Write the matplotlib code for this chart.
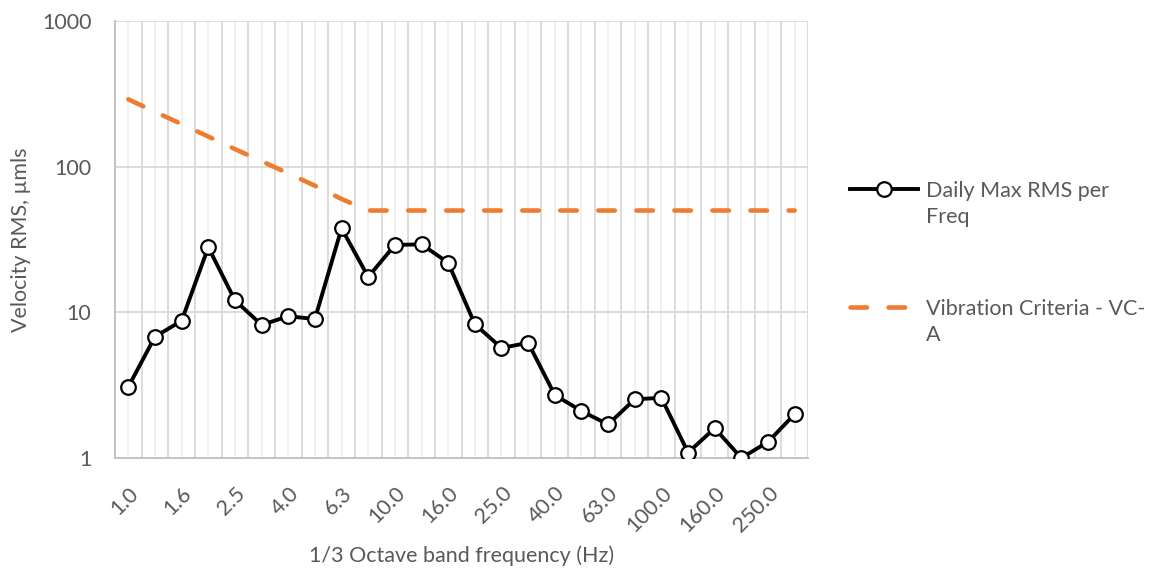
import matplotlib
matplotlib.use("Agg")
import matplotlib.pyplot as plt
from matplotlib.lines import Line2D
import numpy as np

plt.rcParams['font.family'] = ['Lato', 'DejaVu Sans']

freqs = ["1.0", "1.25", "1.6", "2.0", "2.5", "3.15", "4.0", "5.0", "6.3", "8.0",
         "10.0", "12.5", "16.0", "20.0", "25.0", "31.5", "40.0", "50.0", "63.0",
         "80.0", "100.0", "125.0", "160.0", "200.0", "250.0", "315.0"]
daily_max = [3.08, 6.8, 8.75, 28.0, 12.1, 8.2, 9.4, 9.0, 37.7, 17.5,
             29.0, 29.3, 21.9, 8.3, 5.69, 6.18, 2.71, 2.10, 1.70,
             2.53, 2.59, 1.09, 1.60, 1.0, 1.29, 2.0]
vc_a = [290, 238, 196, 161, 132, 109, 90, 74, 60, 50,
        50, 50, 50, 50, 50, 50, 50, 50, 50,
        50, 50, 50, 50, 50, 50, 50]
label_daily = "Daily Max RMS per\nFreq"
label_vc = "Vibration Criteria - VC-\nA"

FS = 15.5
TXT = '#595959'
LW_BLACK = 2.8
LW_ORANGE = 3.3
DASH = (3.6, 4.7)

fig = plt.figure(figsize=(11.51, 5.74), dpi=100)
ax = fig.add_axes([115/1151, 1-458/574, (808-115)/1151, (458-21)/574])

x = np.arange(len(freqs))
orange = "#ED7D31"
ax.plot(x, vc_a, color=orange, lw=LW_ORANGE, dashes=DASH, dash_capstyle='round', zorder=3)
ax.plot(x, daily_max, color='black', lw=LW_BLACK, marker='o', ms=10.5,
        mfc='white', mec='black', mew=1.6, zorder=4)

ax.set_yscale('log')
ax.set_ylim(1, 1000)
ax.set_xlim(-0.5, len(freqs) - 0.5)

# gridlines
for b in np.arange(-0.5, len(freqs)):
    ax.axvline(b, color='#d9d9d9', lw=1.3, zorder=1)
for c in x:
    ax.axvline(c, color='#efefef', lw=1.3, zorder=0.5)
for yv in [10, 100, 1000]:
    ax.axhline(yv, color='#d9d9d9', lw=1.3, zorder=1)

ax.yaxis.set_major_locator(matplotlib.ticker.FixedLocator([1, 10, 100, 1000]))
ax.yaxis.set_major_formatter(matplotlib.ticker.FixedFormatter(["1", "10", "100", "1000"]))
ax.yaxis.set_minor_locator(matplotlib.ticker.NullLocator())

ax.set_xticks(x[::2])
ax.set_xticklabels(freqs[::2], rotation=45, ha='right', rotation_mode='anchor')
ax.tick_params(axis='both', length=0, labelsize=FS, labelcolor=TXT)
ax.tick_params(axis='x', pad=18)
ax.tick_params(axis='y', pad=17)

for s in ['top', 'right']:
    ax.spines[s].set_visible(False)
for s in ['left', 'bottom']:
    ax.spines[s].set_color('#bfbfbf')
    ax.spines[s].set_linewidth(1.3)

ax.set_ylabel("Velocity RMS, µmls", fontsize=FS, color=TXT, va='center')
ax.set_xlabel("1/3 Octave band frequency (Hz)", fontsize=FS, color=TXT, va='center')
ax.yaxis.set_label_coords(21/1151, 1 - 240/574, transform=fig.transFigure)
ax.xaxis.set_label_coords(462/1151, 1 - 556/574, transform=fig.transFigure)

# legend (manual)
def fx(px):
    return px / 1151
def fy(py):
    return 1 - py / 574

fig.add_artist(Line2D([fx(850), fx(918)], [fy(189), fy(189)], color='black', lw=LW_BLACK,
                      transform=fig.transFigure))
fig.add_artist(Line2D([fx(884)], [fy(189)], marker='o', ms=10.5, mfc='white', mec='black',
                      mew=1.6, transform=fig.transFigure))
fig.add_artist(Line2D([fx(850), fx(918)], [fy(307), fy(307)], color=orange, lw=LW_ORANGE,
                      dashes=DASH, dash_capstyle='round', transform=fig.transFigure))
fig.text(fx(926), fy(204), label_daily, fontsize=FS, color=TXT, va='center',
         ha='left', linespacing=1.32)
fig.text(fx(926), fy(322), label_vc, fontsize=FS, color=TXT, va='center',
         ha='left', linespacing=1.32)

fig.savefig("out.png", dpi=100)
